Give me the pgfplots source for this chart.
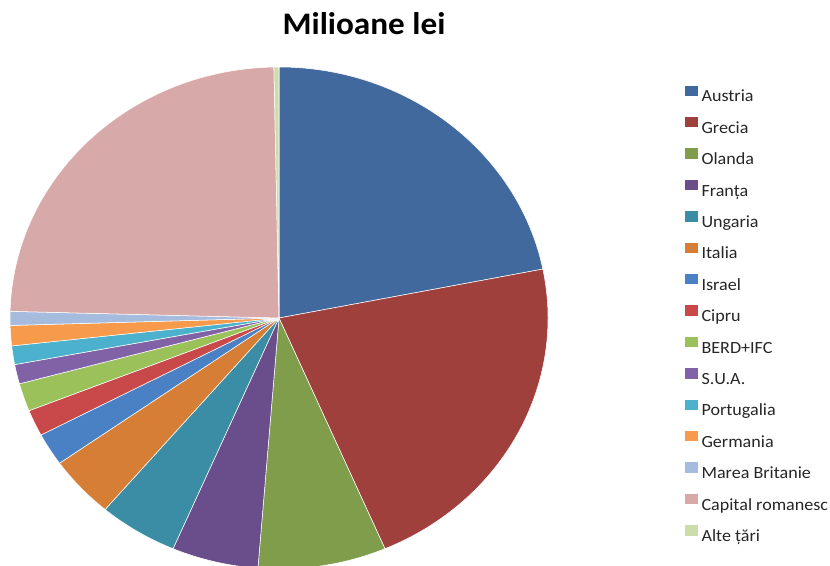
\documentclass[border=0pt]{standalone}
\usepackage{fontspec}
\setmainfont{Carlito}[FakeStretch=1.06]
\usepackage{pgfplots}
\usepackage{pgfplotstable}
\pgfplotsset{compat=1.18}

\definecolor{c0}{HTML}{41699D}
\definecolor{c1}{HTML}{A0403D}
\definecolor{c2}{HTML}{809D4B}
\definecolor{c3}{HTML}{6A4E8C}
\definecolor{c4}{HTML}{3B8DA5}
\definecolor{c5}{HTML}{D77E36}
\definecolor{c6}{HTML}{4A80C4}
\definecolor{c7}{HTML}{C9494B}
\definecolor{c8}{HTML}{9BC15A}
\definecolor{c9}{HTML}{8162A7}
\definecolor{c10}{HTML}{4BB1CC}
\definecolor{c11}{HTML}{F89A4B}
\definecolor{c12}{HTML}{A6BCDF}
\definecolor{c13}{HTML}{D7A9A8}
\definecolor{c14}{HTML}{CDDCAB}

% share of each slice (%)
\pgfplotstableread[col sep=comma]{
label,value
Austria,21.9
Grecia,21.7
Olanda,7.7
Franța,5.2
Ungaria,4.75
Italia,4.0
Israel,2.1
Cipru,1.7
BERD+IFC,1.8
S.U.A.,1.25
Portugalia,1.2
Germania,1.3
Marea Britanie,0.9
Capital romanesc,24.3
Alte țări,0.3
}\piedata

\begin{document}%
\def\pietotal{0}%
\pgfplotsforeachungrouped \i in {0,...,14}{%
  \pgfplotstablegetelem{\i}{value}\of\piedata
  \pgfmathsetmacro\pietotal{\pietotal+\pgfplotsretval}%
}%
\pgfmathsetmacro\angstart{90}%
\begin{tikzpicture}
\begin{axis}[
    x=0.75pt, y=0.75pt,
    xmin=0, xmax=830, ymin=0, ymax=565,
    hide axis,
    legend image code/.code={\fill[#1] (0pt,0.8pt) rectangle (9pt,7.9pt); \path (12pt,0pt);},
    legend cell align=left,
    legend style={
        draw=none, fill=none, inner sep=0pt, outer sep=0pt,
        at={(axis description cs:0.8253,0.8573)}, anchor=north west,
        row sep=0pt,
        nodes={inner sep=0pt, text height=16pt, text depth=7.55pt,
               font=\fontsize{12.8}{14}\selectfont, text=black!85},
    },
]
\pgfplotsforeachungrouped \i in {0,...,14}{%
  \pgfplotstablegetelem{\i}{value}\of\piedata
  \pgfmathsetmacro\angend{\angstart-360*\pgfplotsretval/\pietotal}%
  \edef\pieslice{\noexpand\fill[c\i, draw=white, line width=0.4pt, line join=round]
    (axis cs:279,247) -- ++(\angstart:201.75pt and 188.25pt)
    arc[start angle=\angstart, end angle=\angend, x radius=201.75pt, y radius=188.25pt] -- cycle;}%
  \pieslice
  \edef\pieleg{\noexpand\addlegendimage{c\i}}%
  \pieleg
  \pgfplotstablegetelem{\i}{label}\of\piedata
  \addlegendentryexpanded{\pgfplotsretval}%
  \global\let\angstart\angend
}
\node[anchor=base, font=\bfseries\fontsize{23.5}{28}\selectfont] at (axis cs:364,530) {Milioane lei};
\coordinate (bbsw) at (axis cs:0,0);
\coordinate (bbne) at (axis cs:830,565);
\end{axis}
\pgfresetboundingbox
\path (bbsw) rectangle (bbne);
\end{tikzpicture}%
\end{document}
